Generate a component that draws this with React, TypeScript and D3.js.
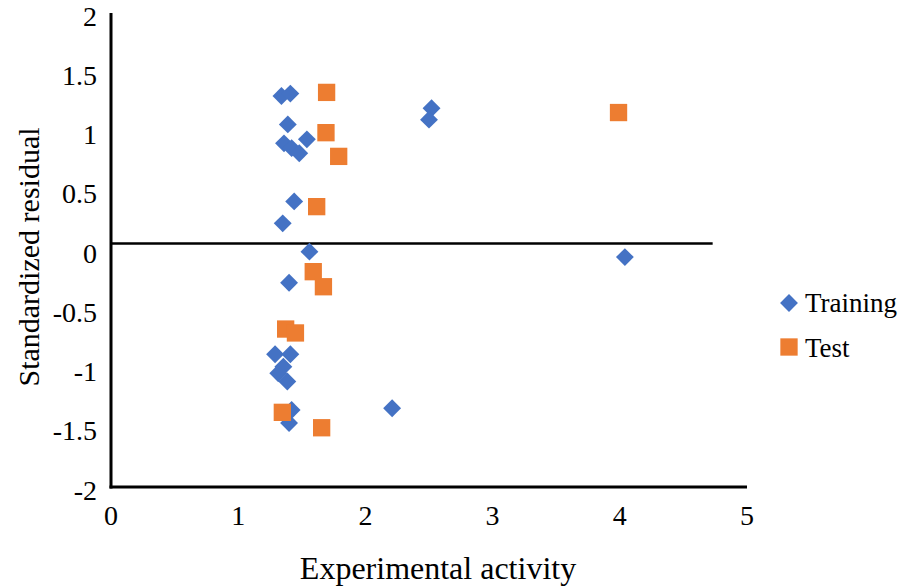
import React from "react";
import * as d3 from "d3";

const trainingX = [1.34, 1.41, 1.39, 1.36, 1.42, 1.48, 1.54, 1.44, 1.35, 1.56, 1.40, 1.29, 1.41, 1.355, 1.315, 1.386, 1.42, 1.40, 2.52, 2.50, 4.04, 2.21];
const trainingY = [1.30, 1.32, 1.06, 0.90, 0.86, 0.816, 0.934, 0.41, 0.225, -0.014, -0.276, -0.88, -0.88, -0.985, -1.04, -1.11, -1.35, -1.46, 1.196, 1.10, -0.06, -1.336];
const testX = [1.695, 1.69, 1.79, 1.617, 1.59, 1.67, 1.373, 1.45, 1.347, 1.656, 3.99];
const testY = [1.33, 0.99, 0.79, 0.366, -0.183, -0.31, -0.667, -0.70, -1.37, -1.50, 1.16];
const xTicks = [0, 1, 2, 3, 4, 5];
const yTicks = [-2, -1.5, -1, -0.5, 0, 0.5, 1, 1.5, 2];
const refLine = [[0, 0.055], [4.73, 0.055]];
const seriesNames = ["Training", "Test"];
const colors = ["#4472C4", "#ED7D31"];

const FONT = "'Liberation Serif', 'Times New Roman', serif";
const ts = (size: number) => ({ fontFamily: FONT, fontSize: size + "px" });

export default function App() {
  const x = d3.scaleLinear().domain([0, 5]).range([111, 747]);
  const y = d3.scaleLinear().domain([-2, 2]).range([487, 13]);
  const diamond = d3.symbol().type(d3.symbolSquare).size(160)();
  const square = d3.symbol().type(d3.symbolSquare).size(300)();
  const line = d3.line<number[]>().x((d) => x(d[0])).y((d) => y(d[1]));

  return (
    <div style={{ position: "fixed", left: 0, top: 0 }}>
      <svg width={904} height={588} style={{ display: "block", background: "#fff" }}>
        <rect width={904} height={588} fill="#fff" />
        {yTicks.map((t) => (
          <text key={"y" + t} x={97} y={y(t) + 3} textAnchor="end" dominantBaseline="central" style={ts(28)} fill="#000">
            {String(t)}
          </text>
        ))}
        {xTicks.map((t) => (
          <text key={"x" + t} x={x(t)} y={515} textAnchor="middle" dominantBaseline="central" style={ts(28)} fill="#000">
            {String(t)}
          </text>
        ))}
        <line x1={x(0)} x2={x(0)} y1={y(2)} y2={y(-2) + 1.5} stroke="#000" strokeWidth={3} />
        <line x1={x(0) - 1.5} x2={x(5)} y1={y(-2)} y2={y(-2)} stroke="#000" strokeWidth={3} />
        <path d={line(refLine) || ""} stroke="#000" strokeWidth={2.5} fill="none" />
        {trainingX.map((v, i) => (
          <path key={"tr" + i} d={diamond} transform={`translate(${x(v)},${y(trainingY[i])}) rotate(45)`} fill={colors[0]} />
        ))}
        {testX.map((v, i) => (
          <path key={"te" + i} d={square} transform={`translate(${x(v)},${y(testY[i])})`} fill={colors[1]} />
        ))}
        <text x={438} y={568} textAnchor="middle" dominantBaseline="central" style={ts(32)} fill="#000">
          Experimental activity
        </text>
        <text transform="translate(28,257) rotate(-90)" textAnchor="middle" dominantBaseline="central" style={ts(30)} fill="#000">
          Standardized residual
        </text>
        <path d={diamond} transform="translate(789,303) rotate(45)" fill={colors[0]} />
        <text x={805} y={303} dominantBaseline="central" style={ts(27)} fill="#000">
          {seriesNames[0]}
        </text>
        <path d={square} transform="translate(789,347)" fill={colors[1]} />
        <text x={805} y={348} dominantBaseline="central" style={ts(27)} fill="#000">
          {seriesNames[1]}
        </text>
      </svg>
    </div>
  );
}
